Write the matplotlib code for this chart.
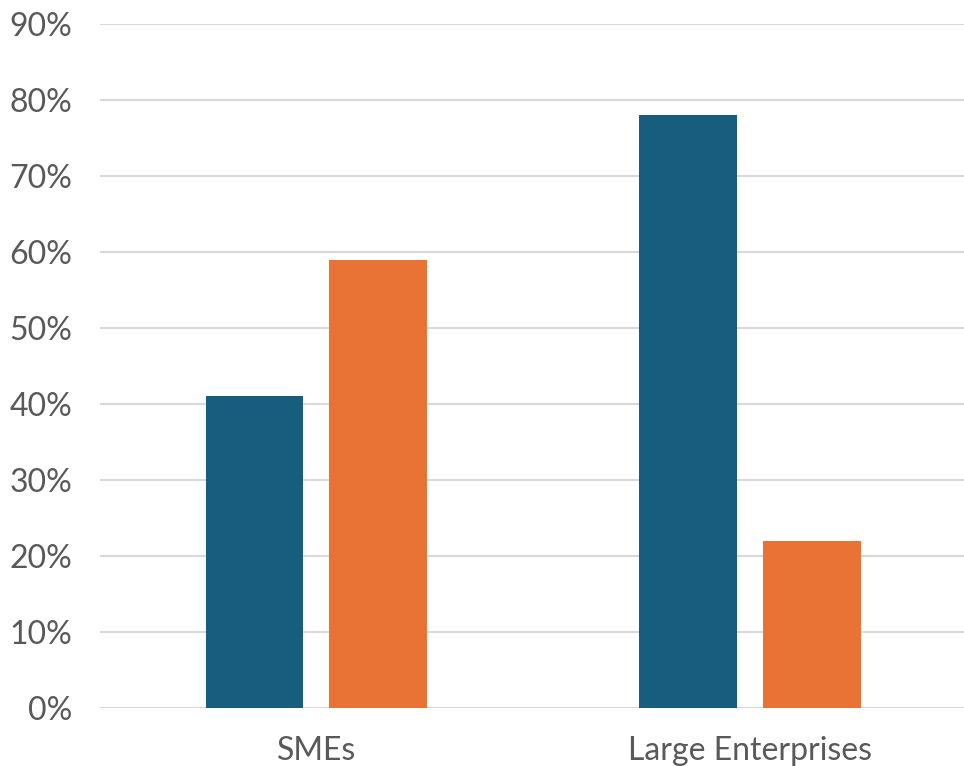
import matplotlib
matplotlib.use("Agg")
import matplotlib.pyplot as plt
import numpy as np
from matplotlib.ticker import FuncFormatter, MultipleLocator

categories = ["SMEs", "Large Enterprises"]
series_a = [41, 78]
series_b = [59, 22]

BLUE = "#175E7E"
ORANGE = "#E87334"
GREY = "#595959"
GRID = "#D9D9D9"

plt.rcParams['font.family'] = ['Lato', 'DejaVu Sans']

fig = plt.figure(figsize=(9.64, 7.66), dpi=100)
ax = fig.add_axes([100/964, 58/766, 864/964, 684/766])

x = np.arange(len(categories))
w = 0.226
off = 0.143
ax.bar(x - off, series_a, w, color=BLUE, zorder=3)
ax.bar(x + off, series_b, w, color=ORANGE, zorder=3)

ax.set_ylim(0, 90)
ax.set_xlim(-0.4994, 1.4937)
ax.yaxis.set_major_locator(MultipleLocator(10))
ax.yaxis.set_major_formatter(FuncFormatter(lambda v, p: f"{int(v)}%"))
ax.grid(axis='y', color=GRID, linewidth=1.5, zorder=0)
ax.set_axisbelow(True)
for s in ax.spines.values():
    s.set_visible(False)
ax.set_xticks(x)
ax.set_xticklabels(categories)
ax.tick_params(axis='both', length=0, colors=GREY, labelsize=23)
ax.tick_params(axis='y', pad=20)
ax.tick_params(axis='x', pad=20)

fig.savefig("out.png", dpi=100)
